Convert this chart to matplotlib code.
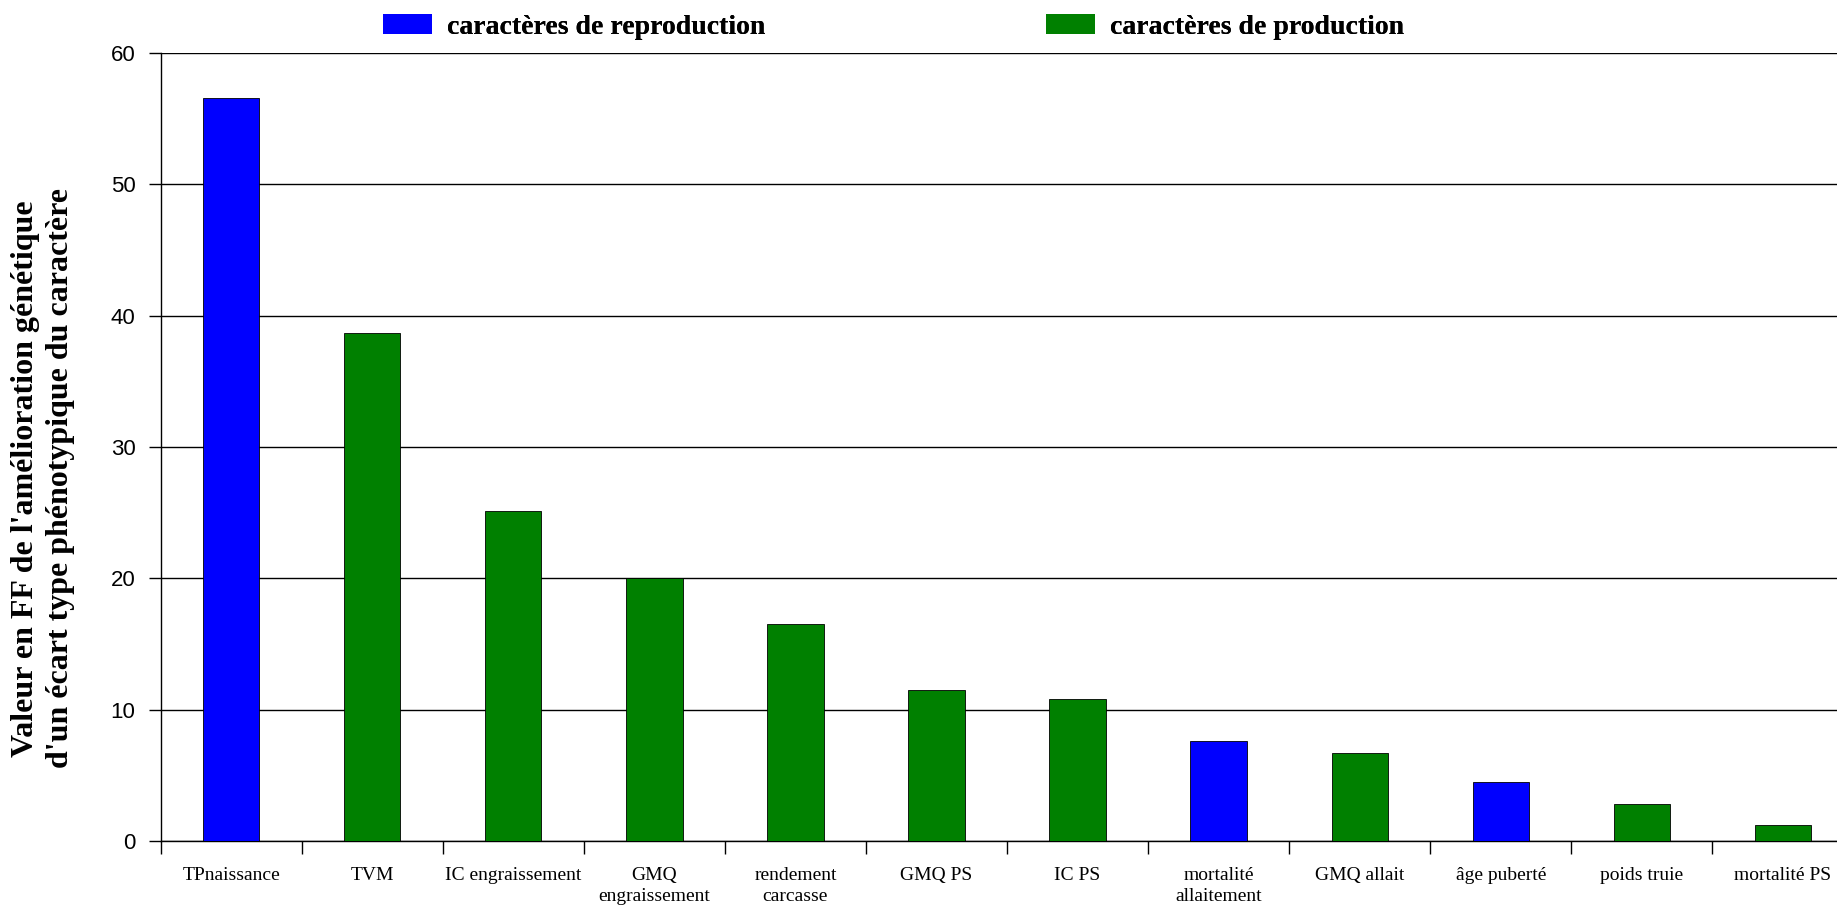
import matplotlib
matplotlib.use("Agg")
import matplotlib.pyplot as plt
from matplotlib.patches import Patch
import numpy as np

# caractères classés par valeur décroissante
caracteres = ["TPnaissance", "TVM", "IC engraissement", "GMQ\nengraissement",
              "rendement\ncarcasse", "GMQ PS", "IC PS", "mortalité\nallaitement",
              "GMQ allait", "âge puberté", "poids truie", "mortalité PS"]
valeurs = [56.6, 38.7, 25.1, 20.0, 16.5, 11.5, 10.8, 7.6, 6.7, 4.5, 2.85, 1.25]
groupes = ["reproduction", "production", "production", "production",
           "production", "production", "production", "reproduction",
           "production", "reproduction", "production", "production"]

couleurs = {"reproduction": "#0000ff", "production": "#008000"}
libelles = {"reproduction": "caractères de reproduction",
            "production": "caractères de production"}

fig = plt.figure(figsize=(18.37, 9.06), dpi=100)
ax = fig.add_axes([0.0874, 0.0717, 0.9216, 0.8698])

x = np.arange(len(caracteres))
ax.bar(x, valeurs, width=0.4, color=[couleurs[g] for g in groupes],
       edgecolor="black", linewidth=0.6, zorder=3)

ax.set_xlim(-0.5, len(caracteres) - 0.5)
ax.set_ylim(0, 60)
ax.set_yticks(np.arange(0, 61, 10))
ax.yaxis.grid(True, color="black", linewidth=1.0, zorder=0)
ax.set_axisbelow(True)

for s in ["top", "right"]:
    ax.spines[s].set_visible(False)
ax.spines["left"].set_linewidth(1.0)
ax.spines["bottom"].set_linewidth(1.0)

# étiquettes au centre, graduations entre les catégories
ax.set_xticks(x)
ax.set_xticklabels(caracteres, fontfamily="Liberation Serif", fontsize=14,
                   linespacing=1.3, va="top")
ax.tick_params(axis="x", which="major", length=0, pad=19)
ax.set_xticks(np.arange(-0.5, len(caracteres), 1), minor=True)
ax.tick_params(axis="x", which="minor", length=9, width=1, direction="out")
ax.tick_params(axis="y", length=9, width=1, pad=9, labelsize=16)
for lab in ax.get_yticklabels():
    lab.set_fontfamily("Liberation Sans")

fig.text(0.0235, 0.472,
         "Valeur en FF de l'amélioration génétique\nd'un écart type phénotypique du caractère",
         rotation=90, ha="center", va="center", fontfamily="Liberation Serif",
         fontweight="bold", fontsize=23, linespacing=1.3)

# légende : une entrée par groupe, placées séparément
for k, x0 in [("reproduction", 0.2085), ("production", 0.5695)]:
    leg = fig.legend(handles=[Patch(facecolor=couleurs[k], edgecolor="none",
                                    label=libelles[k])],
                     loc="upper left", bbox_to_anchor=(x0, 0.984),
                     frameon=False, borderpad=0, borderaxespad=0,
                     handlelength=1.75, handleheight=0.7, handletextpad=0.55,
                     prop={"family": "Liberation Serif", "weight": "bold",
                           "size": 20})
    fig.add_artist(leg)

fig.savefig("out.png", dpi=100)
